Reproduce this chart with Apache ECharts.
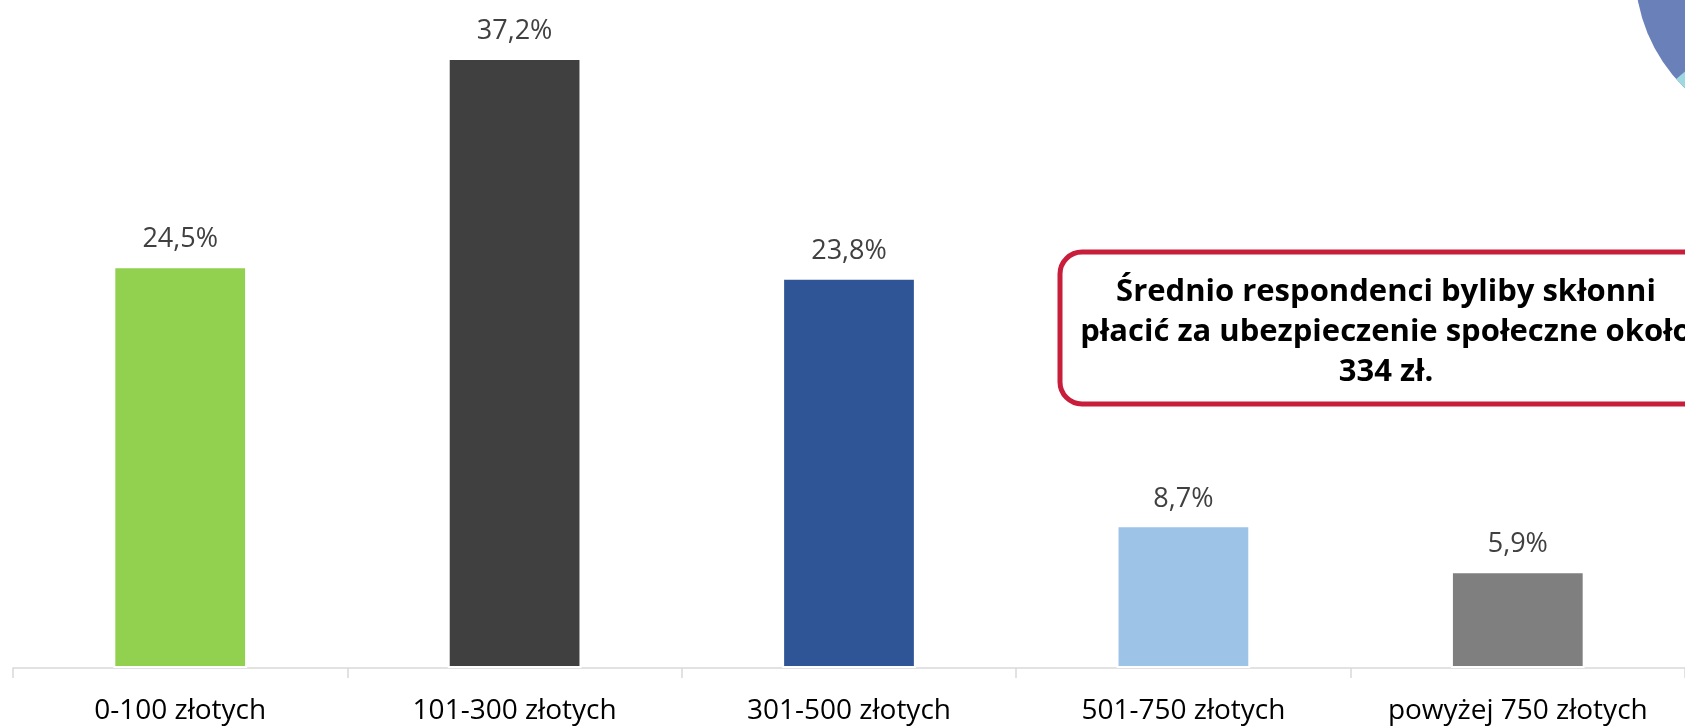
<!DOCTYPE html>
<html>
<head>
<meta charset="utf-8">
<script src="https://cdn.jsdelivr.net/npm/echarts@6/dist/echarts.min.js"></script>
<style>
  html, body { margin: 0; padding: 0; background: #ffffff; }
  #chart { width: 1685px; height: 727px; }
</style>
</head>
<body>
<div id="chart"></div>
<script>
var categories = ['0-100 złotych', '101-300 złotych', '301-500 złotych', '501-750 złotych', 'powyżej 750 złotych']
var shares = [24.5, 37.2, 23.8, 8.7, 5.9]
var barColors = ['#92D050', '#404040', '#2F5597', '#9DC3E6', '#7F7F7F']
var noteLines = ['Średnio respondenci byliby skłonni', 'płacić za ubezpieczenie społeczne około', '334 zł.']

var chart = echarts.init(document.getElementById('chart'))

chart.setOption({
    backgroundColor: '#ffffff',
    animation: false,
    textStyle: { fontFamily: 'Open Sans' },
    grid: { left: 13, width: 1680, top: 12, bottom: 59 },
    xAxis: {
        type: 'category',
        data: categories,
        axisLine: { lineStyle: { color: '#d9d9d9', width: 1.5 } },
        axisTick: { show: true, interval: 0, length: 10, lineStyle: { color: '#d9d9d9', width: 1.5 } },
        axisLabel: { interval: 0, color: '#000000', fontSize: 28, margin: 29, fontFamily: 'Open Sans' }
    },
    yAxis: {
        type: 'value',
        min: 0,
        max: 40,
        show: false,
        splitLine: { show: false }
    },
    series: [{
        type: 'bar',
        barWidth: '40%',
        data: shares.map(function (v, i) {
            return { value: v, itemStyle: { color: barColors[i] } }
        }),
        itemStyle: { borderColor: '#ffffff', borderWidth: 2 },
        label: {
            show: true,
            position: 'top',
            distance: 13,
            color: '#404040',
            fontSize: 27,
            fontFamily: 'Open Sans',
            formatter: function (p) {
                return p.value.toFixed(1).replace('.', ',') + '%'
            }
        }
    }],
    graphic: [
        {
            type: 'circle',
            shape: { cx: 1800, cy: -30, r: 165 },
            style: { fill: '#6A80B8' },
            silent: true
        },
        {
            type: 'sector',
            shape: { cx: 1800, cy: -30, r: 165, r0: 0, startAngle: Math.PI * 0.77, endAngle: Math.PI * 0.5, clockwise: false },
            style: { fill: '#9ED8E0' },
            silent: true
        },
        {
            type: 'rect',
            shape: { x: 1060, y: 252, width: 652, height: 152, r: 22 },
            style: { fill: '#ffffff', stroke: '#C81E3C', lineWidth: 5 },
            silent: true
        },
        {
            type: 'text',
            x: 1386,
            y: 272,
            style: {
                text: noteLines.join('\n'),
                align: 'center',
                verticalAlign: 'top',
                fill: '#000000',
                font: 'bold 31px "Open Sans"',
                lineHeight: 40
            },
            silent: true
        }
    ]
})
</script>
</body>
</html>
